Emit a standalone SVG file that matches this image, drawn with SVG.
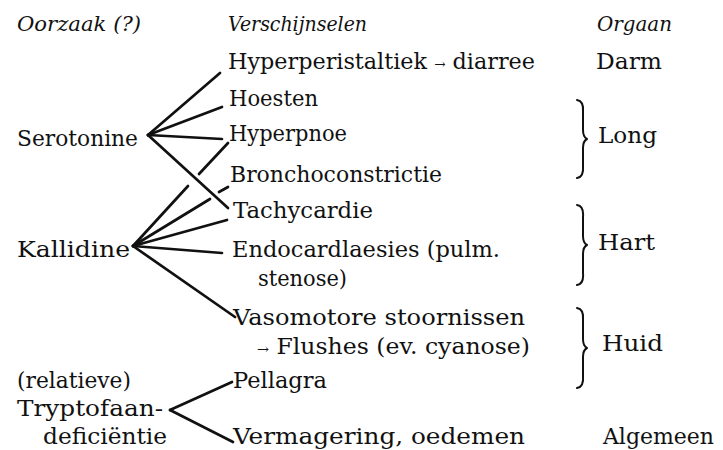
<svg xmlns="http://www.w3.org/2000/svg" width="723" height="450" viewBox="0 0 723 450">
<style>
text{font-family:"DejaVu Serif","Liberation Serif",serif}
.t{font-size:23px;fill:#111}
.h{font-size:20px;font-style:italic;fill:#111}
.ar{font-size:14px}
.c{stroke:#111;stroke-width:2.7;stroke-linecap:round;fill:none}
.b{stroke:#111;stroke-width:2;stroke-linecap:round;stroke-linejoin:round;fill:none}
</style>
<rect width="723" height="450" fill="#fff"/>
<g id="headers">
<text class="h" x="17" y="31" textLength="124" lengthAdjust="spacingAndGlyphs">Oorzaak (?)</text>
<text class="h" x="228" y="31" textLength="139" lengthAdjust="spacingAndGlyphs">Verschijnselen</text>
<text class="h" x="597" y="31" textLength="75" lengthAdjust="spacingAndGlyphs">Orgaan</text>
</g>
<g id="causes">
<g id="serotonine"><text class="t" x="17" y="146" textLength="121" lengthAdjust="spacingAndGlyphs">Serotonine</text></g>
<g id="kallidine"><text class="t" x="17" y="257" textLength="113" lengthAdjust="spacingAndGlyphs">Kallidine</text></g>
<g id="tryptofaan"><text class="t" x="17" y="388" textLength="114" lengthAdjust="spacingAndGlyphs">(relatieve)</text>
<text class="t" x="17" y="416" textLength="146" lengthAdjust="spacingAndGlyphs">Tryptofaan-</text>
<text class="t" x="43" y="444" textLength="124" lengthAdjust="spacingAndGlyphs">deficiëntie</text></g>
</g>
<g id="symptoms">
<g id="hyperperistaltiek"><text class="t" x="228" y="69" textLength="307" lengthAdjust="spacingAndGlyphs">Hyperperistaltiek <tspan class="ar">→</tspan> diarree</text></g>
<g id="hoesten"><text class="t" x="229" y="106" textLength="89" lengthAdjust="spacingAndGlyphs">Hoesten</text></g>
<g id="hyperpnoe"><text class="t" x="229" y="141" textLength="118" lengthAdjust="spacingAndGlyphs">Hyperpnoe</text></g>
<g id="bronchoconstrictie"><text class="t" x="230" y="182" textLength="212" lengthAdjust="spacingAndGlyphs">Bronchoconstrictie</text></g>
<g id="tachycardie"><text class="t" x="233" y="218" textLength="140" lengthAdjust="spacingAndGlyphs">Tachycardie</text></g>
<g id="endocard"><text class="t" x="232" y="257" textLength="268" lengthAdjust="spacingAndGlyphs">Endocardlaesies (pulm.</text>
<text class="t" x="258" y="286" textLength="89" lengthAdjust="spacingAndGlyphs">stenose)</text></g>
<g id="vasomotore"><text class="t" x="233" y="325" textLength="292" lengthAdjust="spacingAndGlyphs">Vasomotore stoornissen</text>
<text class="t" x="257" y="354" textLength="273" lengthAdjust="spacingAndGlyphs"><tspan class="ar">→</tspan> Flushes (ev. cyanose)</text></g>
<g id="pellagra"><text class="t" x="233" y="388" textLength="94" lengthAdjust="spacingAndGlyphs">Pellagra</text></g>
<g id="vermagering"><text class="t" x="233" y="444" textLength="292" lengthAdjust="spacingAndGlyphs">Vermagering, oedemen</text></g>
</g>
<g id="organs">
<g id="darm"><text class="t" x="596" y="69" textLength="66" lengthAdjust="spacingAndGlyphs">Darm</text></g>
<g id="long"><path class="b" d="M577,100 Q584,101 583,112 L583,130 Q583,137 587,139 Q583,141 583,148 L583,166 Q584,177 577,178"/>
<text class="t" x="598" y="143" textLength="59" lengthAdjust="spacingAndGlyphs">Long</text></g>
<g id="hart"><path class="b" d="M577,205 Q584,206 583,217 L583,236 Q583,243 587,245 Q583,247 583,254 L583,273 Q584,284 577,285"/>
<text class="t" x="598" y="250" textLength="57" lengthAdjust="spacingAndGlyphs">Hart</text></g>
<g id="huid"><path class="b" d="M577,308 Q584,309 583,320 L583,339 Q583,346 587,348 Q583,350 583,357 L583,376 Q584,387 577,388"/>
<text class="t" x="602" y="351" textLength="61" lengthAdjust="spacingAndGlyphs">Huid</text></g>
<g id="algemeen"><text class="t" x="603" y="444" textLength="111" lengthAdjust="spacingAndGlyphs">Algemeen</text></g>
</g>
<g id="connectors">
<line class="c" x1="148" y1="135" x2="220" y2="73"/>
<line class="c" x1="148" y1="135" x2="222" y2="107"/>
<line class="c" x1="148" y1="135" x2="222" y2="139"/>
<line class="c" x1="148" y1="135" x2="228" y2="208"/>
<line class="c" x1="133" y1="246" x2="188" y2="186"/>
<line class="c" x1="199" y1="174" x2="228" y2="143"/>
<line class="c" x1="133" y1="246" x2="210" y2="199"/>
<line class="c" x1="219" y1="192" x2="228" y2="187"/>
<line class="c" x1="133" y1="246" x2="227" y2="220"/>
<line class="c" x1="133" y1="246" x2="222" y2="253"/>
<line class="c" x1="133" y1="246" x2="235" y2="317"/>
<line class="c" x1="170" y1="410" x2="232" y2="382"/>
<line class="c" x1="170" y1="410" x2="233" y2="442"/>
</g>
</svg>
